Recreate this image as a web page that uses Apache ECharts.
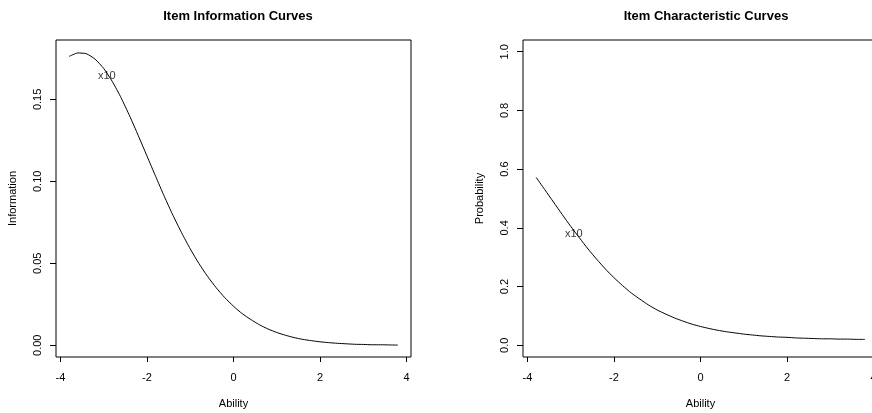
<!DOCTYPE html>
<html>
<head>
<meta charset="utf-8">
<script src="https://cdn.jsdelivr.net/npm/echarts@6/dist/echarts.min.js"></script>
<style>
  html, body { margin: 0; padding: 0; background: #fff; }
  #main { width: 872px; height: 413px; }
</style>
</head>
<body>
<div id="main"></div>
<script>
// ability grid (theta)
var ability = [-3.8, -3.6, -3.4, -3.2, -3.0, -2.8, -2.6, -2.4, -2.2, -2.0,
    -1.8, -1.6, -1.4, -1.2, -1.0, -0.8, -0.6, -0.4, -0.2, 0.0,
    0.2, 0.4, 0.6, 0.8, 1.0, 1.2, 1.4, 1.6, 1.8, 2.0,
    2.2, 2.4, 2.6, 2.8, 3.0, 3.2, 3.4, 3.6, 3.8];

// item x10 information curve
var information = [0.1762, 0.1783, 0.1778, 0.1745, 0.1688, 0.1608, 0.1510, 0.1398, 0.1278, 0.1154,
    0.1030, 0.0908, 0.0793, 0.0686, 0.0588, 0.0499, 0.0420, 0.0351, 0.0290, 0.0238,
    0.0193, 0.0157, 0.0125, 0.0099, 0.0078, 0.0061, 0.0047, 0.0036, 0.0028, 0.0021,
    0.0016, 0.0012, 0.0009, 0.0006, 0.0005, 0.0003, 0.0003, 0.0002, 0.0001];

// item x10 characteristic curve
var probability = [0.572, 0.530, 0.488, 0.446, 0.405, 0.366, 0.328, 0.293, 0.260, 0.230,
    0.203, 0.178, 0.157, 0.137, 0.120, 0.106, 0.093, 0.082, 0.072, 0.064,
    0.057, 0.051, 0.046, 0.042, 0.038, 0.035, 0.032, 0.030, 0.028, 0.027,
    0.025, 0.024, 0.023, 0.022, 0.022, 0.021, 0.021, 0.020, 0.020];

var abilityTicks = [-4, -2, 0, 2, 4];
var infoTicks = [0, 0.05, 0.10, 0.15];
var probTicks = [0, 0.2, 0.4, 0.6, 0.8, 1.0];

// where R put the item label
var infoLabel = [[-2.93, 0.164, 'x10']];
var probLabel = [[-2.93, 0.378, 'x10']];

var font = 'Liberation Sans, Arial, Helvetica, sans-serif';

function pairs(ys) {
    return ability.map(function (x, i) { return [x, ys[i]]; });
}

function xAx(idx) {
    return {
        type: 'value', gridIndex: idx,
        min: -4.104, max: 4.104,
        name: 'Ability', nameLocation: 'middle', nameGap: 41,
        nameTextStyle: { color: '#000', fontSize: 11, fontFamily: font },
        axisLine: { show: false, onZero: false },
        splitLine: { show: false },
        axisTick: { show: true, length: 5, lineStyle: { color: '#000' }, customValues: abilityTicks },
        axisLabel: { color: '#000', fontSize: 11, fontFamily: font, margin: 15, customValues: abilityTicks }
    };
}

function yAx(idx, name, min, max, ticks, digits) {
    return {
        type: 'value', gridIndex: idx,
        min: min, max: max,
        name: name, nameLocation: 'middle', nameGap: 38,
        nameTextStyle: { color: '#000', fontSize: 11, fontFamily: font },
        axisLine: { show: false, onZero: false },
        splitLine: { show: false },
        axisTick: { show: true, length: 6, lineStyle: { color: '#000' }, customValues: ticks },
        axisLabel: {
            color: '#000', fontSize: 11, fontFamily: font, margin: 13, rotate: 90,
            customValues: ticks,
            formatter: function (v) { return v.toFixed(digits); }
        }
    };
}

function labelSeries(idx, pts) {
    return {
        type: 'scatter', xAxisIndex: idx, yAxisIndex: idx,
        symbolSize: 0,
        label: {
            show: true, position: 'inside', color: '#000', fontSize: 11, fontFamily: font,
            formatter: function (p) { return p.data[2]; }
        },
        data: pts
    };
}

var chart = echarts.init(document.getElementById('main'));
chart.setOption({
    animation: false,
    title: [
        { text: 'Item Information Curves', left: 233, top: 5, textAlign: 'center',
          textStyle: { fontSize: 13, fontWeight: 'bold', color: '#000', fontFamily: font } },
        { text: 'Item Characteristic Curves', left: 701, top: 5, textAlign: 'center',
          textStyle: { fontSize: 13, fontWeight: 'bold', color: '#000', fontFamily: font } }
    ],
    grid: [
        { left: 56, top: 40, width: 355, height: 317, show: true, borderColor: '#000', borderWidth: 1,
          outerBoundsMode: 'none', containLabel: false },
        { left: 523, top: 40, width: 355, height: 317, show: true, borderColor: '#000', borderWidth: 1,
          outerBoundsMode: 'none', containLabel: false }
    ],
    xAxis: [xAx(0), xAx(1)],
    yAxis: [
        yAx(0, 'Information', -0.00716, 0.1862, infoTicks, 2),
        yAx(1, 'Probability', -0.04, 1.04, probTicks, 1)
    ],
    series: [
        { type: 'line', xAxisIndex: 0, yAxisIndex: 0, showSymbol: false, smooth: 0.2,
          lineStyle: { color: '#000', width: 1 }, data: pairs(information) },
        { type: 'line', xAxisIndex: 1, yAxisIndex: 1, showSymbol: false, smooth: 0.2,
          lineStyle: { color: '#000', width: 1 }, data: pairs(probability) },
        labelSeries(0, infoLabel),
        labelSeries(1, probLabel)
    ]
});
</script>
</body>
</html>
